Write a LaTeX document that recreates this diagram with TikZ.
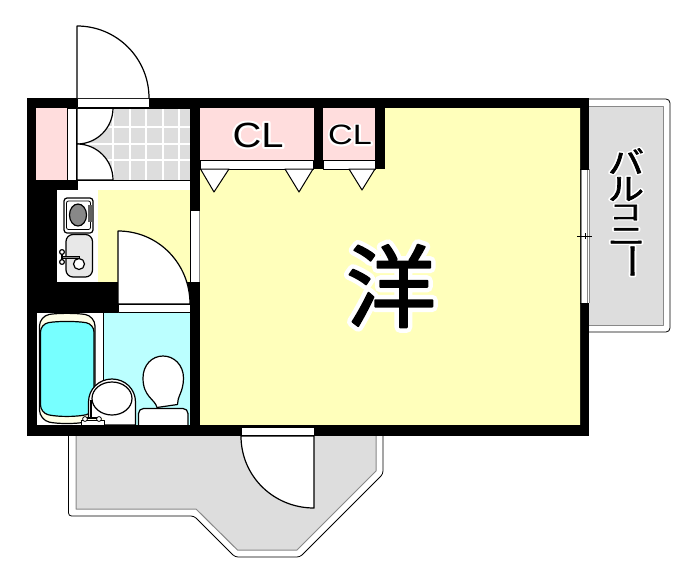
\documentclass[tikz,border=0pt]{standalone}
\usepackage{fontspec}
\setmainfont{Liberation Sans}
\newfontfamily\lat{Liberation Sans}
\newfontfamily\lathalo{Liberation Sans}[FakeBold=12]
\newfontfamily\cjk{Noto Sans CJK JP}
\newfontfamily\cjkstrong{Noto Sans CJK JP}[FakeBold=2]
\newfontfamily\cjkhalo{Noto Sans CJK JP}[FakeBold=12]
\definecolor{pinkfill}{HTML}{FFDDDD}
\definecolor{tilegray}{HTML}{DDDDDD}
\definecolor{roomyellow}{HTML}{FFFFBB}
\definecolor{bathcyan}{HTML}{BBFFFF}
\definecolor{tubcyan}{HTML}{77FFFF}
\definecolor{tubcream}{HTML}{FFFFE8}
\definecolor{stovegray}{HTML}{888888}
\definecolor{sinkgray}{HTML}{E8E8E8}
\definecolor{edgegray}{HTML}{888888}
\newcommand{\halolat}[1]{\rlap{\lathalo\color{white}#1}{\lat\color{black}#1}}
\newcommand{\halocjk}[1]{\rlap{\cjkhalo\color{white}#1}{\cjkstrong\color{black}#1}}
% one cell of the vertical label: cell height, horizontal shift, content
\newcommand{\vcell}[3]{\hbox to 40pt{\hss\kern#2\vbox to #1{\vss\hbox{#3}\vss}\hss}}
\tikzset{
  line/.style={draw=black,line width=1.2pt},
  thin line/.style={draw=black,line width=0.8pt},
  label text/.style={inner sep=0pt,outer sep=0pt,text=black},
  frame/.style={fill=white,draw=black,line width=0.8pt},
  grid line/.style={draw=white,line width=1.4pt},
}
\begin{document}
\begin{tikzpicture}[x=1pt,y=-1pt,line join=round]
\useasboundingbox (0,0) rectangle (699,581);
\fill[white] (0,0) rectangle (699,581);
% right balcony
\draw[thin line,rounded corners=4pt] (589,99) -- (670,99) -- (670,332) -- (589,332);
\fill[tilegray] (589,106.5) rectangle (663,325);
\draw[edgegray,line width=1pt] (589,106.5) -- (663,106.5) -- (663,325) -- (589,325);
% bottom balcony
\draw[thin line,rounded corners=3pt] (68.5,436) -- (68.5,516) -- (194,516) -- (235,557) -- (300,557) -- (383,474) -- (383,436);
\fill[tilegray] (76,436) -- (76,509) -- (196,509) -- (237.5,550) -- (297,550) -- (376,471) -- (376,436) -- cycle;
\draw[edgegray,line width=1pt] (76,436) -- (76,509) -- (196,509) -- (237.5,550) -- (297,550) -- (376,471) -- (376,436);
% walls
\fill[black] (26.5,98) rectangle (589,435.5);
% main room
\fill[roomyellow] (200,169) -- (385,169) -- (385,108) -- (580,108) -- (580,425.5) -- (200,425.5) -- cycle;
% closets
\fill[pinkfill] (200,108) rectangle (313.5,160);
\fill[pinkfill] (323,108) rectangle (375,160);
\draw[frame] (200,160) rectangle (313.5,169);
\draw[frame] (323,160) rectangle (375,169);
\draw[frame,line width=1pt] (200.5,169) -- (214,192) -- (229,169) -- cycle;
\draw[frame,line width=1pt] (285,169) -- (299,192) -- (313,169) -- cycle;
\draw[frame,line width=1pt] (349,169) -- (362,190) -- (375,169) -- cycle;
% shoe closet
\fill[pinkfill] (36,108) rectangle (67,180);
\draw[frame] (67.5,108) rectangle (76.5,180);
% entry tile
\fill[tilegray] (77,108) rectangle (190,180);
\foreach \gx in {113,130,146,163,179} \draw[grid line] (\gx,108) -- (\gx,180);
\foreach \gy in {127,144,160} \draw[grid line] (77,\gy) -- (190,\gy);
\draw[line,fill=white] (77,108) -- (113,108) .. controls (113,127.9) and (96.9,144) .. (77,144) -- cycle;
\draw[line,fill=white] (77,180) -- (113,180) .. controls (113,160.1) and (96.9,144) .. (77,144) -- cycle;
\draw[thin line] (77,108) -- (190,108);
\draw[frame] (77,180) rectangle (190,190);
% kitchen
\fill[white] (57,190) rectangle (98,282);
\fill[roomyellow] (98,190) rectangle (190,282);
\fill[black] (98,282) rectangle (118,313);
% side window
\fill[white] (190.5,210) rectangle (199,282);
\draw[edgegray,line width=0.8pt] (199.5,210) -- (199.5,282);
\draw[thin line] (190,210) -- (200,210);
% stove
\draw[line,fill=white,rounded corners=3pt] (64,198) rectangle (93,233);
\draw[thin line,fill=white,rounded corners=2pt] (66.5,201) rectangle (90.5,229.5);
\fill[stovegray!70!black] (88,205) rectangle (92,222);
\draw[line,fill=stovegray] (78,215) ellipse [x radius=8.5,y radius=11];
% sink
\draw[line,fill=sinkgray,rounded corners=7pt] (66,234.5) rectangle (92.5,277);
\draw[line,fill=white] (79,264) circle [radius=5.5];
\draw[line width=3pt,black] (61,257) -- (80,257);
\draw[line width=0.8pt,stovegray] (63,257) -- (79,257);
\draw[line,fill=white] (62,252) circle [radius=2.4];
\draw[line,fill=white] (62,262) circle [radius=2.4];
\draw[line] (62,254) -- (62,260);
% bath door
\draw[line,fill=white] (118,304) -- (118,231) .. controls (158.3,231) and (190,263.7) .. (190,304) -- cycle;
\draw[frame] (118,304) rectangle (190,312.5);
% bath
\fill[white] (37,313) rectangle (103,425);
\fill[bathcyan] (104,313) rectangle (190,425);
\draw[line,fill=tubcream,rounded corners=10pt] (39.5,316) .. controls (58,313) and (76,313) .. (95,316) -- (95,420) .. controls (76,424) and (58,424) .. (39.5,420) -- cycle;
\draw[line,fill=tubcyan,rounded corners=8pt] (40.5,324) .. controls (58,321) and (76,321) .. (94,324) -- (94,413) .. controls (76,417) and (58,417) .. (40.5,413) -- cycle;
% toilet
\draw[line,fill=white,rounded corners=5pt] (138.5,426) -- (138.5,408.5) -- (188,408.5) -- (188,426);
\draw[line,fill=white] (157,407.5) .. controls (155,399) and (143,397) .. (143,378) .. controls (143,365) and (152,356) .. (163,356) .. controls (174,356) and (183.5,365) .. (183.5,378) .. controls (183.5,392) and (177,397) .. (177.5,404.5) -- cycle;
% washbasin
\draw[line,fill=white] (88.5,425) -- (88.5,402) .. controls (88.5,389) and (99,379) .. (112,379) .. controls (125,379) and (135.5,389) .. (135.5,402) -- (135.5,425) -- cycle;
\draw[line,fill=white] (112,398.5) ellipse [x radius=20,y radius=16.5];
\draw[line width=2pt,black] (90.5,400) -- (90.5,418);
\fill[tubcream] (82,418) rectangle (104,425);
\draw[thin line,fill=white] (81,420) rectangle (104,425);
\draw[thin line,fill=white] (85,419) circle [radius=2.4];
\draw[thin line,fill=white] (99,419) circle [radius=2.4];
\draw[line] (87,418) -- (97,418);
\fill[black] (26.5,425) rectangle (589,435.5);
% top door
\draw[frame] (77,98.5) rectangle (149.5,107.5);
\draw[line,fill=white] (77,98) -- (77,26) .. controls (116.8,26) and (149,58.2) .. (149,98);
% bottom door
\draw[frame] (241,427) rectangle (314,435);
\draw[line,fill=white] (241,436) .. controls (241,476.3) and (273.7,508) .. (314,508) -- (314,436) -- cycle;
% right window
\fill[white] (581,169) rectangle (589,303);
\draw[edgegray,line width=0.8pt] (581,169) -- (581,303);
\draw[edgegray,line width=0.8pt] (587,169) -- (587,303);
\draw[edgegray,line width=0.8pt] (589,169) -- (589,303);
\draw[thin line] (580,169) -- (589,169);
\draw[thin line] (580,303) -- (589,303);
\draw[thin line] (577,236) -- (592,236);
\draw[thin line] (585,233) -- (585,239);
% labels
\node[label text] (cla) at (258,135) {\fontsize{35}{35}\selectfont\scalebox{1.14}[1]{\halolat{CL}}};
\node[label text] (clb) at (350,135) {\fontsize{28}{28}\selectfont\scalebox{1.22}[1]{\halolat{CL}}};
\node[label text] (yo) at (391,286) {\fontsize{90}{90}\selectfont\rlap{\cjkhalo\color{white}洋}{\cjkstrong\color{black}洋}};
\node[label text] (balcony) at (626,209) {\fontsize{36}{36}\selectfont\vbox{\offinterlineskip
  \vcell{28pt}{0pt}{\scalebox{1}[0.85]{\halocjk{バ}}}
  \vcell{28pt}{0pt}{\scalebox{1}[0.85]{\halocjk{ル}}}
  \vcell{19pt}{-1pt}{\scalebox{0.9}[0.62]{\halocjk{コ}}}
  \vcell{29pt}{1pt}{\scalebox{1.05}[0.72]{\halocjk{ニ}}}
  \vcell{20pt}{1pt}{\rotatebox{-90}{\halocjk{ー}}}}};
\end{tikzpicture}
\end{document}
